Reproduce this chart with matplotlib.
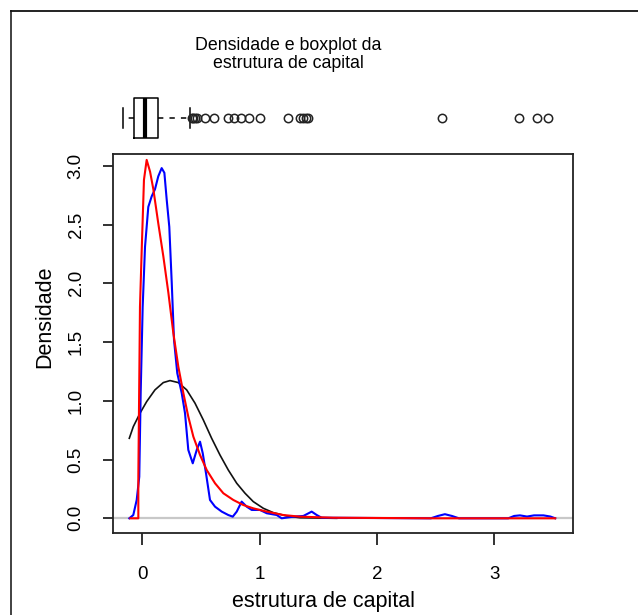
import matplotlib
matplotlib.use('Agg')
import matplotlib.pyplot as plt
from matplotlib.lines import Line2D

plt.rcParams['font.family'] = ['Liberation Sans', 'DejaVu Sans']

# densidade empirica (kernel) - azul
blue_x = [-0.111, -0.077, -0.048, -0.026, -0.014, 0.003, 0.023, 0.051, 0.080, 0.108,
          0.136, 0.165, 0.188, 0.208, 0.230, 0.251, 0.270, 0.298, 0.336, 0.364,
          0.392, 0.430, 0.464, 0.492, 0.515, 0.543, 0.577, 0.620, 0.677, 0.733,
          0.771, 0.805, 0.847, 0.890, 0.933, 1.003, 1.061, 1.146, 1.188, 1.287,
          1.373, 1.444, 1.487, 1.529, 2.46, 2.52, 2.58, 2.64, 2.70,
          3.12, 3.17, 3.22, 3.28, 3.34, 3.42, 3.48, 3.52]
blue_y = [0.0, 0.028, 0.156, 0.354, 1.065, 1.80, 2.31, 2.65, 2.74, 2.80,
          2.91, 2.98, 2.94, 2.71, 2.48, 2.00, 1.52, 1.235, 1.065, 0.894,
          0.582, 0.468, 0.582, 0.652, 0.554, 0.383, 0.156, 0.099, 0.057, 0.028,
          0.014, 0.057, 0.142, 0.099, 0.071, 0.071, 0.043, 0.028, 0.0, 0.014,
          0.020, 0.057, 0.028, 0.005, 0.0, 0.02, 0.035, 0.02, 0.0,
          0.0, 0.02, 0.025, 0.015, 0.025, 0.025, 0.015, 0.0]

# densidade ajustada - vermelho
red_x = [-0.102, -0.034, -0.034, -0.020, -0.005, 0.014, 0.037, 0.066, 0.094, 0.136,
         0.179, 0.222, 0.264, 0.307, 0.350, 0.392, 0.435, 0.492, 0.549, 0.620,
         0.691, 0.776, 0.861, 0.946, 1.061, 1.202, 1.344, 1.628, 2.5, 3.52]
red_y = [0.0, 0.0, 0.354, 1.80, 2.29, 2.88, 3.05, 2.95, 2.80, 2.51,
         2.23, 1.92, 1.58, 1.29, 1.065, 0.865, 0.695, 0.539, 0.411, 0.298,
         0.213, 0.156, 0.113, 0.085, 0.057, 0.028, 0.014, 0.005, 0.0, 0.0]

# curva normal - preto
black_x = [-0.111, -0.077, -0.020, 0.037, 0.108, 0.179, 0.236, 0.307, 0.378, 0.449,
           0.520, 0.591, 0.662, 0.733, 0.805, 0.876, 0.946, 1.032, 1.117, 1.231,
           1.344, 1.657]
black_y = [0.681, 0.78, 0.894, 0.993, 1.093, 1.155, 1.172, 1.155, 1.093, 0.980,
           0.837, 0.681, 0.539, 0.411, 0.298, 0.213, 0.142, 0.085, 0.048, 0.020,
           0.005, 0.0]

# boxplot
box_stats = dict(whislo=-0.167, q1=-0.071, med=0.023, q3=0.136, whishi=0.407)
fliers = [0.421, 0.432, 0.449, 0.469, 0.535, 0.614, 0.733, 0.784, 0.839, 0.912,
          1.003, 1.245, 1.347, 1.373, 1.393, 1.415, 2.552, 3.211, 3.362, 3.461]

x_ticks = [0, 1, 2, 3]
y_ticks = [0.0, 0.5, 1.0, 1.5, 2.0, 2.5, 3.0]

W, H = 638, 615
fig = plt.figure(figsize=(W / 100, H / 100), dpi=100)


def px(x0, y0, x1, y1):
    # retangulo em pixels -> coordenadas da figura
    return [x0 / W, 1 - y1 / H, (x1 - x0) / W, (y1 - y0) / H]


xlim = (-0.25, 3.672)

ax = fig.add_axes(px(113, 154, 573, 533))
ax.axhline(0, color='#c8c8c8', lw=1.6, zorder=1)
ax.plot(black_x, black_y, color='#111111', lw=1.2)
ax.plot(blue_x, blue_y, color='blue', lw=1.5)
ax.plot(red_x, red_y, color='red', lw=1.5)
ax.set_xlim(xlim)
ax.set_ylim(-0.125, 3.10)
ax.set_xticks(x_ticks)
ax.set_xticklabels([str(t) for t in x_ticks], fontsize=13.5)
ax.set_yticks(y_ticks)
ax.set_yticklabels(['%.1f' % t for t in y_ticks], fontsize=13.5, rotation=90, va='center')
ax.tick_params(axis='x', length=8.5, width=1.3, pad=15, colors='#222222', labelcolor='black')
ax.tick_params(axis='y', length=7.5, width=1.3, pad=13, colors='#222222', labelcolor='black')
for s in ax.spines.values():
    s.set_linewidth(1.3)
    s.set_color('#222222')

bax = fig.add_axes(px(113, 92, 573, 144))
stats = dict(box_stats)
stats['fliers'] = fliers
bax.bxp([stats], positions=[0.5], widths=0.77, orientation='horizontal',
        capwidths=0.38, patch_artist=False,
        boxprops=dict(color='black', lw=1.1),
        medianprops=dict(color='black', lw=3),
        whiskerprops=dict(color='black', lw=1.1, linestyle=(0, (3.5, 4))),
        capprops=dict(color='black', lw=1.1),
        flierprops=dict(marker='o', mfc='none', mec='#222222', ms=6, mew=1.1))
bax.set_xlim(xlim)
bax.set_ylim(0, 1)
bax.axis('off')

fig.text(288 / W, 1 - 46 / H, 'Densidade e boxplot da', ha='center', va='center', fontsize=12.8)
fig.text(288 / W, 1 - 63 / H, 'estrutura de capital', ha='center', va='center', fontsize=12.8)
fig.text(323 / W, 1 - 601 / H, 'estrutura de capital', ha='center', va='center', fontsize=15.5)
fig.text(45 / W, 1 - 317 / H, 'Densidade', ha='center', va='center', fontsize=15.5, rotation=90)

# moldura
fig.add_artist(Line2D([10.5 / W, 10.5 / W], [0, 1 - 11 / H], transform=fig.transFigure,
                      color='#333333', lw=1.3))
fig.add_artist(Line2D([10.5 / W, 1], [1 - 11 / H, 1 - 11 / H], transform=fig.transFigure,
                      color='#111111', lw=1.3))

fig.savefig('out.png', dpi=100)
